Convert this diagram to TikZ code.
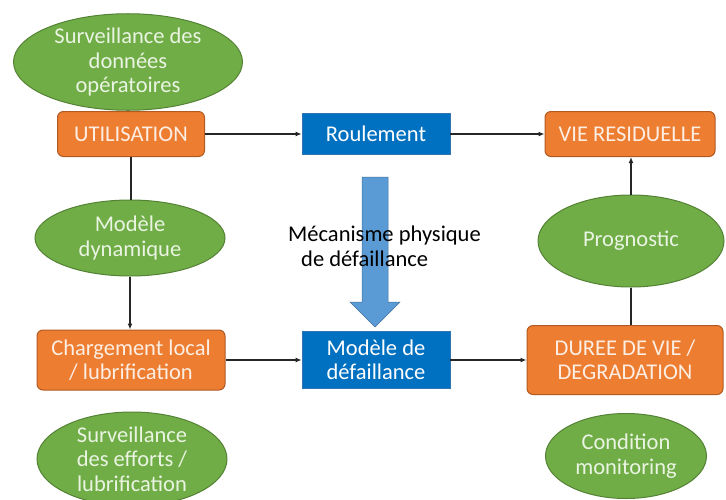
\documentclass[tikz,border=0pt]{standalone}
\usepackage{fontspec}
\setmainfont{Carlito}
\usetikzlibrary{shapes.geometric,arrows.meta}
\definecolor{gfill}{HTML}{70AD47}
\definecolor{gdraw}{HTML}{548235}
\definecolor{gtext}{HTML}{EAF4E2}
\definecolor{ofill}{HTML}{ED7D31}
\definecolor{odraw}{HTML}{B05A22}
\definecolor{otext}{HTML}{FDEEE4}
\definecolor{bfill}{HTML}{0070C0}
\definecolor{bdraw}{HTML}{2E75B6}
\definecolor{afill}{HTML}{5B9BD5}
\definecolor{adraw}{HTML}{41719C}
\tikzset{
  every node/.style={font=\fontsize{22.5}{24.5}\selectfont},
  gell/.style={ellipse, fill=gfill, draw=gdraw, line width=1pt, text=gtext, align=center, inner sep=0pt},
  obox/.style={rectangle, rounded corners=6pt, fill=ofill, draw=odraw, line width=1pt, text=otext, align=center, inner sep=0pt},
  bbox/.style={rectangle, fill=bfill, draw=bdraw, line width=0.8pt, text=white, align=center, inner sep=0pt},
  conn/.style={line width=1.3pt, draw=black!85},
  arr/.style={conn, -{Latex[length=6pt,width=5pt]}}
}
\begin{document}
\begin{tikzpicture}[x=1pt,y=-1pt]
\useasboundingbox (0,0) rectangle (726,499);
\begin{scope}
\clip (0,0) rectangle (726,499);
% ellipses
\node[gell, minimum width=229pt, minimum height=86pt] (sdo) at (128,62) {Surveillance des\\donn\'ees\\op\'eratoires};
\node[gell, minimum width=190pt, minimum height=76pt] (md) at (130,238) {Mod\`ele\\dynamique};
\node[gell, minimum width=186pt, minimum height=92pt] (prog) at (631,241) {Prognostic};
\node[gell, minimum width=190pt, minimum height=94pt] (sel) at (132,459) {Surveillance\\des efforts /\\lubrification};
\node[gell, minimum width=161pt, minimum height=85pt] (cm) at (626,456) {Condition\\monitoring};
% boxes
\node[obox, minimum width=147pt, minimum height=45pt] (util) at (131,134) {UTILISATION};
\node[bbox, minimum width=148pt, minimum height=41pt] (roul) at (376,134) {Roulement};
\node[obox, minimum width=170pt, minimum height=45pt] (vie) at (630,134) {VIE RESIDUELLE};
\node[obox, minimum width=188pt, minimum height=60pt] (charg) at (131,360) {Chargement local\\/ lubrification};
\node[bbox, minimum width=148pt, minimum height=57pt] (mdef) at (376,360) {Mod\`ele de\\d\'efaillance};
\node[obox, minimum width=196pt, minimum height=69pt] (duree) at (625,360) {DUREE DE VIE /\\DEGRADATION};
% connectors
\draw[arr] (util) -- (roul);
\draw[arr] (roul) -- (vie);
\draw[conn] (util.south) -- (util.south |- md.north);
\draw[arr] (md.south) -- (md.south |- charg.north);
\draw[arr] (charg) -- (mdef);
\draw[arr] (mdef) -- (duree);
\draw[conn] (duree.north -| prog.south) -- (prog.south);
\draw[arr] (prog.north) -- (prog.north |- vie.south);
% big arrow
\fill[afill, draw=adraw, line width=0.5pt] (362,177) -- (388,177) -- (388,302) -- (400,302) -- (375,327) -- (350,302) -- (362,302) -- cycle;
\node[align=left, inner sep=0pt, anchor=north west, text=black] (mec) at (288,226) {M\'ecanisme physique\\\hspace{13pt}de d\'efaillance};
\end{scope}
\end{tikzpicture}
\end{document}
